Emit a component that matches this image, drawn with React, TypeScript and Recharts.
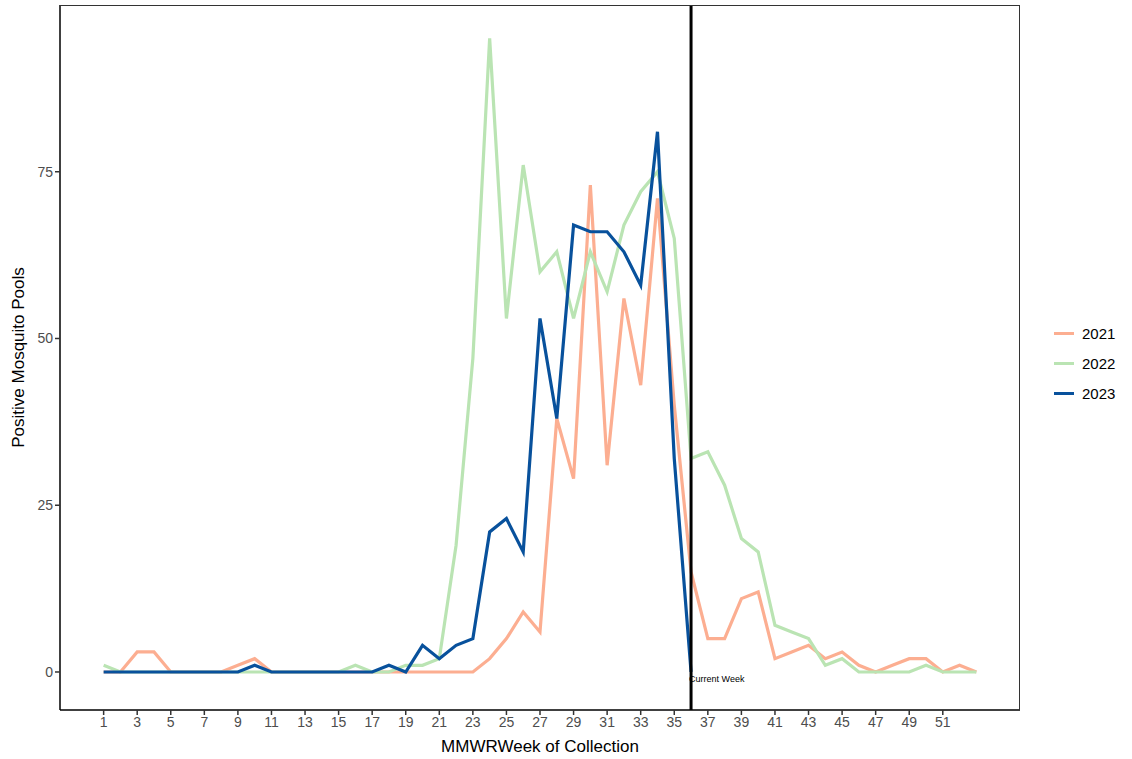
import { LineChart, Line, XAxis, YAxis, ReferenceLine } from 'recharts';

const weeks = Array.from({ length: 53 }, (_, i) => i + 1);
const pools2021 = [0, 0, 3, 3, 0, 0, 0, 0, 1, 2, 0, 0, 0, 0, 0, 0, 0, 0, 0, 0, 0, 0, 0, 2, 5, 9, 6, 38, 29, 73, 31, 56, 43, 71, 40, 15, 5, 5, 11, 12, 2, 3, 4, 2, 3, 1, 0, 1, 2, 2, 0, 1, 0];
const pools2022 = [1, 0, 0, 0, 0, 0, 0, 0, 0, 0, 0, 0, 0, 0, 0, 1, 0, 0, 1, 1, 2, 19, 47, 95, 53, 76, 60, 63, 53, 63, 57, 67, 72, 75, 65, 32, 33, 28, 20, 18, 7, 6, 5, 1, 2, 0, 0, 0, 0, 1, 0, 0, 0];
const pools2023 = [0, 0, 0, 0, 0, 0, 0, 0, 0, 1, 0, 0, 0, 0, 0, 0, 0, 1, 0, 4, 2, 4, 5, 21, 23, 18, 53, 38, 67, 66, 66, 63, 58, 81, 32, 0];
const xTicks = [1, 3, 5, 7, 9, 11, 13, 15, 17, 19, 21, 23, 25, 27, 29, 31, 33, 35, 37, 39, 41, 43, 45, 47, 49, 51];
const yTicks = [0, 25, 50, 75];
const currentWeek = 36;

const series = [
  { key: 'y2021', name: '2021', color: '#fcae91' },
  { key: 'y2022', name: '2022', color: '#bae4b3' },
  { key: 'y2023', name: '2023', color: '#08519c' },
];

const data = weeks.map((w, i) => ({
  week: w,
  y2021: pools2021[i],
  y2022: pools2022[i],
  y2023: i < pools2023.length ? pools2023[i] : null,
}));

const font = 'Arial, "Liberation Sans", sans-serif';

export default function App() {
  return (
    <div style={{ position: 'absolute', left: 0, top: 0, width: 1132, height: 759, background: '#fff', fontFamily: font }}>
      <LineChart width={1132} height={759} data={data} margin={{ top: 5, right: 112, bottom: 19, left: 10 }}>
        <XAxis
          dataKey="week"
          type="number"
          domain={[-1.6, 55.6]}
          ticks={xTicks}
          allowDataOverflow
          interval={0}
          height={30}
          stroke="#000"
          strokeWidth={1.5}
          tick={{ fill: '#4d4d4d', fontSize: 14 }}
          tickLine={{ stroke: '#333' }}
          tickSize={5}
          label={{ value: 'MMWRWeek of Collection', position: 'insideBottom', offset: -12, fill: '#000', fontSize: 17 }}
        />
        <YAxis
          type="number"
          domain={[-5.7, 100]}
          ticks={yTicks}
          allowDataOverflow
          width={50}
          stroke="#000"
          strokeWidth={1.5}
          tick={{ fill: '#4d4d4d', fontSize: 14 }}
          tickLine={{ stroke: '#333' }}
          tickSize={5}
          label={{ value: 'Positive Mosquito Pools', angle: -90, position: 'insideLeft', offset: 8, fill: '#000', fontSize: 17, style: { textAnchor: 'middle' } }}
        />
        {series.map((s) => (
          <Line key={s.key} dataKey={s.key} name={s.name} stroke={s.color} strokeWidth={3.2} dot={false} isAnimationActive={false} connectNulls={false} />
        ))}
        <ReferenceLine
          x={currentWeek}
          stroke="#000"
          strokeWidth={3}
          label={{ value: 'Current Week', position: 'insideBottomLeft', offset: 0, dx: -2, dy: -28, fontSize: 9, fill: '#000' }}
        />
      </LineChart>
      <div style={{ position: 'absolute', left: 60, top: 5, width: 960, height: 705, border: '1px solid #333', borderLeft: 'none', borderBottom: 'none', boxSizing: 'border-box', pointerEvents: 'none' }} />
      <div style={{ position: 'absolute', left: 1054, top: 318 }}>
        {series.map((s) => (
          <div key={s.key} style={{ display: 'flex', alignItems: 'center', height: 30, fontSize: 15 }}>
            <div style={{ width: 20, height: 3, background: s.color, marginRight: 8 }} />
            <span>{s.name}</span>
          </div>
        ))}
      </div>
    </div>
  );
}
